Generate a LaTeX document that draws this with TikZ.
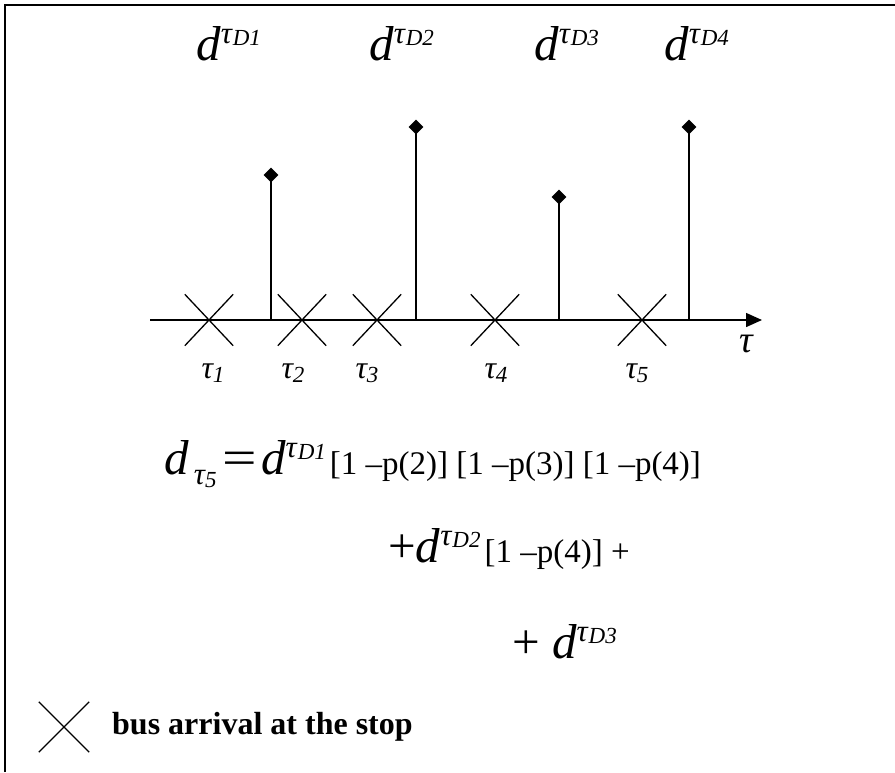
\documentclass[tikz,border=0pt]{standalone}
\usepackage{fontspec}
\setmainfont{Liberation Serif}
\usetikzlibrary{arrows.meta,shapes.misc,shapes.geometric}
\newcommand\bigd{\fontsize{49}{52}\selectfont}
\newcommand\brk{\fontsize{33}{36}\selectfont}
\newcommand\dtau[1]{{\bigd\textit{d}}\raisebox{17pt}{\fontsize{31}{33}\selectfont\textit{τ}\raisebox{-2pt}{\fontsize{23}{25}\selectfont\textit{D#1}}}}
\begin{document}
\begin{tikzpicture}[x=1pt,y=-1pt,
  xmark/.style={draw,cross out,line width=1.3pt,minimum width=47pt,minimum height=50pt,inner sep=0pt},
  stem/.style={line width=2pt},
  tip/.style={diamond,fill=black,inner sep=0pt,minimum size=15pt},
  lbl/.style={anchor=base west,inner sep=0pt},
  tlbl/.style={anchor=base,inner sep=0pt,font=\fontsize{32}{34}\selectfont\itshape}]
\path[use as bounding box] (0,0) rectangle (895,772);
\draw[line width=2pt] (5,772) -- (5,5) -- (895,5);
% axis
\coordinate (a0) at (150,320);
\coordinate (a1) at (762,320);
\draw[line width=1.5pt,-{Triangle[length=16pt,width=14pt]}] (a0) -- (a1);
% crosses
\node[xmark] (x1) at (209,320) {};
\node[xmark] (x2) at (302,320) {};
\node[xmark] (x3) at (377,320) {};
\node[xmark] (x4) at (495,320) {};
\node[xmark] (x5) at (642,320) {};
% tau labels
\node[tlbl] (t1) at (213,378) {τ\raisebox{-4pt}{\fontsize{23}{25}\selectfont 1}};
\node[tlbl] (t2) at (293,378) {τ\raisebox{-4pt}{\fontsize{23}{25}\selectfont 2}};
\node[tlbl] (t3) at (367,378) {τ\raisebox{-4pt}{\fontsize{23}{25}\selectfont 3}};
\node[tlbl] (t4) at (496,378) {τ\raisebox{-4pt}{\fontsize{23}{25}\selectfont 4}};
\node[tlbl] (t5) at (637,378) {τ\raisebox{-4pt}{\fontsize{23}{25}\selectfont 5}};
\node[tlbl,font=\fontsize{38}{40}\selectfont\itshape] (tau) at (746,352) {τ};
% stems
\coordinate (b1) at (271,320); \node[tip] (s1) at (271,175) {};
\coordinate (b2) at (416,320); \node[tip] (s2) at (416,127) {};
\coordinate (b3) at (559,320); \node[tip] (s3) at (559,197) {};
\coordinate (b4) at (689,320); \node[tip] (s4) at (689,127) {};
\draw[stem] (b1) -- (s1.center);
\draw[stem] (b2) -- (s2.center);
\draw[stem] (b3) -- (s3.center);
\draw[stem] (b4) -- (s4.center);
% top labels
\node[lbl] (d1) at (196,60) {\dtau{1}};
\node[lbl] (d2) at (369,60) {\dtau{2}};
\node[lbl] (d3) at (534,60) {\dtau{3}};
\node[lbl] (d4) at (664,60) {\dtau{4}};
% formula
\node[lbl] (f1) at (164,474) {{\bigd\textit{d}}\raisebox{-10pt}{\fontsize{31}{33}\selectfont\itshape \,τ\raisebox{-3pt}{\fontsize{23}{25}\selectfont 5}}\hspace{6pt}{\bigd\scalebox{1.25}[1]{=}\hspace{4pt}}\dtau{1}\hspace{4pt}{\brk [1 –p(2)] [1 –p(3)] [1 –p(4)]}};
\node[lbl] (f2) at (388,562) {{\bigd +}\dtau{2}\hspace{4pt}{\brk [1 –p(4)] +}};
\node[lbl] (f3) at (512,658) {{\bigd + }\dtau{3}};
% legend
\node[xmark,minimum width=49pt,minimum height=49pt] (lx) at (64,727) {};
\node[anchor=west,inner sep=0pt,font=\fontsize{32}{34}\selectfont\bfseries] (lt) at (112,727) {bus arrival at the stop};
\end{tikzpicture}
\end{document}
